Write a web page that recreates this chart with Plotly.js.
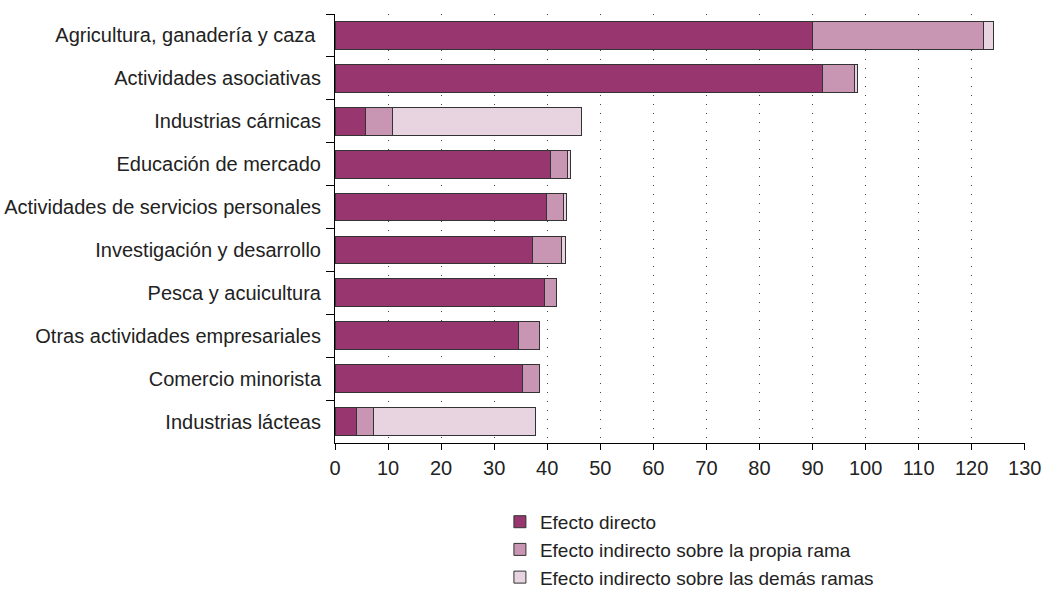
<!DOCTYPE html>
<html>
<head>
<meta charset="utf-8">
<script src="https://cdn.plot.ly/plotly-3.0.1.min.js"></script>
<style>html,body{margin:0;padding:0;background:#fff;}#chart{width:1044px;height:593px;}</style>
</head>
<body>
<div id="chart"></div>
<script>
const categories = [
  "Agricultura, ganadería y caza ",
  "Actividades asociativas",
  "Industrias cárnicas",
  "Educación de mercado",
  "Actividades de servicios personales",
  "Investigación y desarrollo",
  "Pesca y acuicultura",
  "Otras actividades empresariales",
  "Comercio minorista",
  "Industrias lácteas"
];
const efectoDirecto =        [90.0, 91.8, 5.7, 40.6, 39.8, 37.3, 39.5, 34.5, 35.4, 4.1];
const efectoPropiaRama =     [32.3, 6.1, 5.2, 3.3, 3.2, 5.4, 2.3, 4.1, 3.2, 3.2];
const efectoDemasRamas =     [1.9, 0.5, 35.5, 0.5, 0.6, 0.8, 0, 0, 0, 30.4];
const seriesNames = ["Efecto directo", "Efecto indirecto sobre la propia rama", "Efecto indirecto sobre las demás ramas"];
const seriesColors = ["#97366f", "#c896b2", "#e8d3e0"];
const xTicks = [0,10,20,30,40,50,60,70,80,90,100,110,120,130];

const seriesValues = [efectoDirecto, efectoPropiaRama, efectoDemasRamas];
const traces = seriesValues.map((vals, i) => ({
  type: "bar",
  orientation: "h",
  name: seriesNames[i],
  x: vals,
  y: categories,
  marker: {color: seriesColors[i], line: {color: "#333333", width: 1}},
  hoverinfo: "x+name"
}));

const layout = {
  width: 1044, height: 593,
  margin: {l: 335, r: 19, t: 14, b: 150},
  paper_bgcolor: "#ffffff", plot_bgcolor: "#ffffff",
  barmode: "stack",
  bargap: 0.35,
  font: {family: "Liberation Sans, Arial, sans-serif", size: 20, color: "#222"},
  showlegend: true,
  legend: {
    orientation: "v", traceorder: "normal",
    xref: "paper", x: 0.239, xanchor: "left",
    yref: "container", y: 0.152, yanchor: "top",
    font: {size: 19, color: "#222"},
    itemclick: false, tracegroupgap: 0
  },
  xaxis: {
    range: [0, 130.05],
    tickvals: xTicks, ticktext: xTicks.map(String),
    showline: true, linecolor: "#000", linewidth: 1,
    ticks: "outside", ticklen: 6, tickcolor: "#000",
    ticklabelstandoff: 1,
    showgrid: true, gridcolor: "#444", gridwidth: 1, griddash: "1px,8px",
    zeroline: false, fixedrange: true
  },
  yaxis: {
    type: "category",
    autorange: "reversed",
    showline: true, linecolor: "#000", linewidth: 1,
    ticks: "outside", ticklen: 8, tickcolor: "#000", tickson: "boundaries",
    ticklabelstandoff: 9,
    showgrid: false, zeroline: false, fixedrange: true
  }
};

Plotly.newPlot("chart", traces, layout, {displayModeBar: false, staticPlot: true});
</script>
</body>
</html>
